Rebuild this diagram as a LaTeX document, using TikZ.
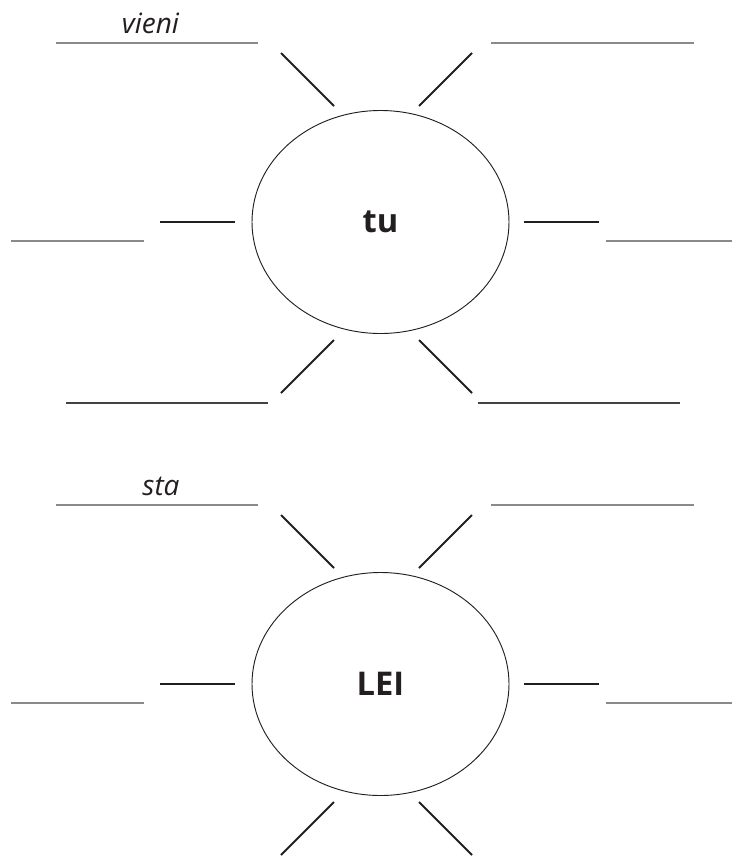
\documentclass[tikz,border=0pt]{standalone}
\usepackage{fontspec}
\setsansfont{Open Sans}
\usepackage{tikz}
\usetikzlibrary{shapes.geometric}
\definecolor{ink}{HTML}{231F20}
\definecolor{rule}{HTML}{8A8A8A}

\begin{document}
\begin{tikzpicture}[
    x=0.75pt, y=-0.75pt,
    sun/.style={draw=ink, ellipse, line width=0.7pt, inner sep=0pt,
                minimum width=192.75pt, minimum height=167.25pt,
                font=\sffamily\bfseries\fontsize{24.5}{28}\selectfont, text=ink},
    ray/.style={line width=1.5pt, draw=ink},
    blank/.style={line width=1.1pt, draw=rule},
    thinblank/.style={line width=0.8pt, draw=ink!85},
    word/.style={anchor=base, text=ink,
                 font=\sffamily\itshape\fontsize{21}{24}\selectfont},
]
\useasboundingbox (0,0) rectangle (732,864);

\node[sun] (tu) at (380.5,222) {tu};
\node[sun] (lei) at (380.5,684) {LEI};

\node[word] (vieni) at ([shift={(-230,-189)}]tu.center) {vieni};
\node[word] (sta) at ([shift={(-219.5,-189)}]lei.center) {sta};

% rays and blanks round each sun
\foreach \s in {tu,lei} {
  \draw[blank] ([shift={(-324.5,-179)}]\s.center) -- ([shift={(-122.5,-179)}]\s.center);
  \draw[blank] ([shift={(110.5,-179)}]\s.center) -- ([shift={(313.5,-179)}]\s.center);
  \draw[ray] ([shift={(-99.5,-169)}]\s.center) -- ([shift={(-46.5,-116)}]\s.center);
  \draw[ray] ([shift={(38.5,-116)}]\s.center) -- ([shift={(91.5,-169)}]\s.center);
  \draw[ray] ([shift={(-220.5,0)}]\s.center) -- ([shift={(-145.5,0)}]\s.center);
  \draw[ray] ([shift={(143.5,0)}]\s.center) -- ([shift={(218.5,0)}]\s.center);
  \draw[blank] ([shift={(-369.5,19)}]\s.center) -- ([shift={(-236.5,19)}]\s.center);
  \draw[blank] ([shift={(225.5,19)}]\s.center) -- ([shift={(351.5,19)}]\s.center);
  \draw[ray] ([shift={(-46.5,118)}]\s.center) -- ([shift={(-99.5,171)}]\s.center);
  \draw[ray] ([shift={(38.5,118)}]\s.center) -- ([shift={(91.5,171)}]\s.center);
}
\draw[thinblank] ([shift={(-314.5,181)}]tu.center) -- ([shift={(-112.5,181)}]tu.center);
\draw[thinblank] ([shift={(97.5,181)}]tu.center) -- ([shift={(299.5,181)}]tu.center);
\end{tikzpicture}
\end{document}
